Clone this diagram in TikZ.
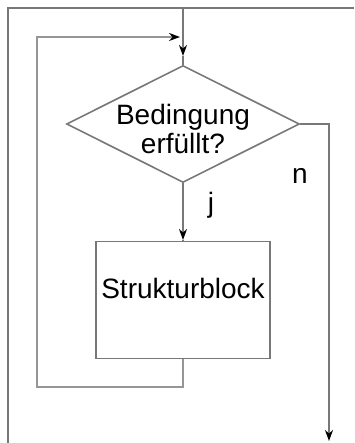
\documentclass[tikz,border=0pt]{standalone}
\usepackage{fontspec}
\setmainfont{Liberation Sans}
\usetikzlibrary{shapes.geometric,arrows.meta}
\definecolor{linegray}{RGB}{120,120,120}
\definecolor{loopgray}{RGB}{150,150,150}
\begin{document}
\begin{tikzpicture}[x=1pt,y=-1pt,
  wire/.style={draw=linegray, line width=2pt},
  loopwire/.style={draw=loopgray, line width=2.8pt},
  shapeline/.style={draw=linegray, line width=1.6pt},
  tip/.style={-{Stealth[color=black,length=11pt,width=8pt]}},
  lbl/.style={font=\fontsize{28}{29}\selectfont, inner sep=0pt}
]
\useasboundingbox (0,0) rectangle (354,443);

% decision and block
\node[diamond, shapeline, minimum width=233pt, minimum height=117pt,
      inner sep=0pt] (dia) at (183,124) {};
\node[lbl, align=center] (cond) at (183,129) {Bedingung\\erfüllt?};
\node[rectangle, shapeline, minimum width=174pt, minimum height=117pt,
      inner sep=0pt] (box) at (183,300) {};
\node[lbl] (blk) at (183,288) {Strukturblock};

% branch labels
\node[lbl] (lj) at (211,205) {j};
\node[lbl] (ln) at (300,176) {n};

% fixed points of the wiring
\coordinate (frameTL) at (8,8);
\coordinate (frameBL) at (8,443);
\coordinate (frameTR) at (354,8);
\coordinate (entry) at (183,8);
\coordinate (entryTip) at (183,56);
\coordinate (loopIn) at (180,37);
\coordinate (loopA) at (37,37);
\coordinate (loopB) at (37,387);
\coordinate (loopC) at (183,387);
\coordinate (exitA) at (329,124);
\coordinate (exitEnd) at (329,441);
\coordinate (yesTip) at (183,240);

% outer frame
\draw[wire, line join=miter] (frameBL) -- (frameTL) -- (frameTR);

% loop back from the block to the entry
\draw[loopwire, line join=miter, tip]
  (box.south) -- (loopC) -- (loopB) -- (loopA) -- (loopIn);

% entry into the decision
\draw[wire, tip] (entry) -- (entryTip);
\draw[wire] (entryTip) -- (dia.north);

% yes branch
\draw[wire, tip] (dia.south) -- (yesTip);
\draw[wire] (yesTip) -- (box.north);

% no branch
\draw[wire, line join=miter, tip] (dia.east) -- (exitA) -- (exitEnd);
\end{tikzpicture}
\end{document}
